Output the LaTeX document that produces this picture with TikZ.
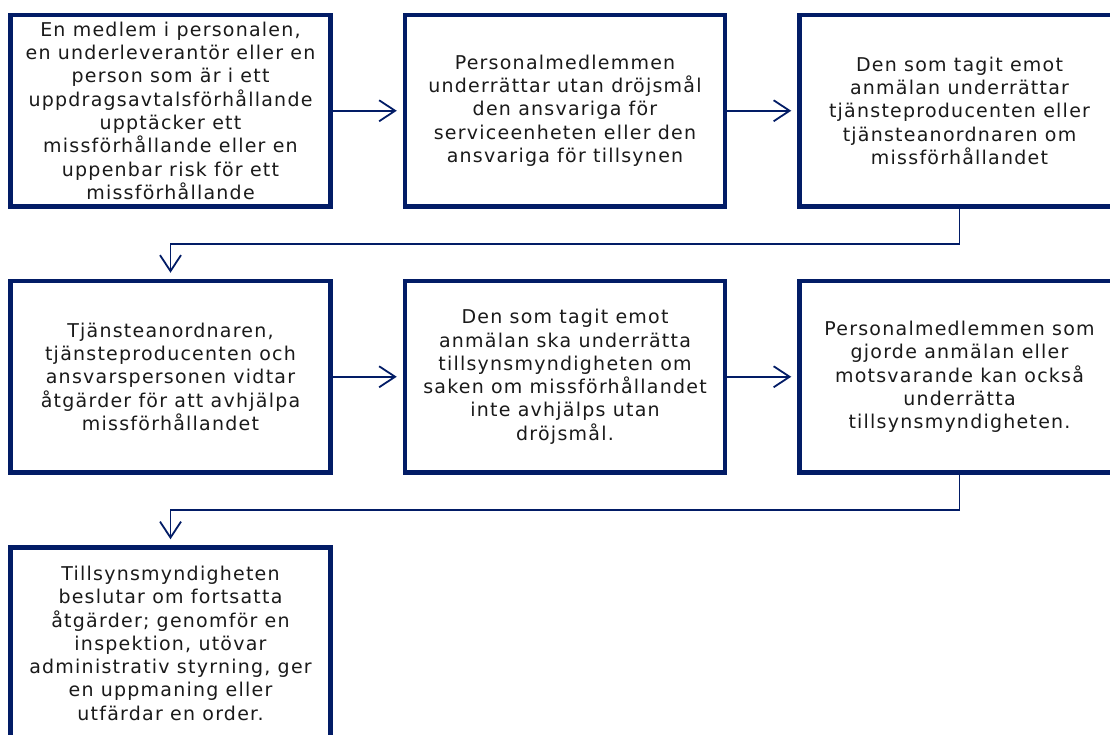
\documentclass[tikz,border=0pt]{standalone}
\usepackage{fontspec}
\setmainfont{DejaVu Sans}[LetterSpace=6.5]
\usetikzlibrary{arrows.meta}
\definecolor{navy}{RGB}{2,28,102}
\definecolor{txt}{RGB}{26,26,26}
\tikzset{
  stepbox/.style={draw=navy, line width=4.5pt, fill=white, rectangle,
    minimum width=320pt, minimum height=191.5pt, inner sep=0pt,
    align=center, text=txt, font=\fontsize{19}{23.3}\selectfont},
  conn/.style={draw=navy, line width=1.8pt,
    -{Straight Barb[length=16pt,width=21pt]}, shorten >=6pt}
}
\begin{document}
\begin{tikzpicture}[x=1pt,y=-1pt]
\useasboundingbox (0,0) rectangle (1110,734);
\clip (0,0) rectangle (1110,734);
\node[stepbox] (b1) at (170.5,110.75) {En medlem i personalen,\\ en underleverantör eller en\\ person som är i ett\\ uppdragsavtalsförhållande\\ upptäcker ett\\ missförhållande eller en\\ uppenbar risk för ett\\ missförhållande};
\node[stepbox] (b2) at (565,110.75) {Personalmedlemmen\\ underrättar utan dröjsmål\\ den ansvariga för\\ serviceenheten eller den\\ ansvariga för tillsynen};
\node[stepbox] (b3) at (959.5,110.75) {Den som tagit emot\\ anmälan underrättar\\ tjänsteproducenten eller\\ tjänsteanordnaren om\\ missförhållandet};
\node[stepbox] (b4) at (170.5,376.75) {Tjänsteanordnaren,\\ tjänsteproducenten och\\ ansvarspersonen vidtar\\ åtgärder för att avhjälpa\\ missförhållandet};
\node[stepbox] (b5) at (565,376.75) {Den som tagit emot\\ anmälan ska underrätta\\ tillsynsmyndigheten om\\ saken om missförhållandet\\ inte avhjälps utan\\ dröjsmål.};
\node[stepbox] (b6) at (959.5,376.75) {Personalmedlemmen som\\ gjorde anmälan eller\\ motsvarande kan också\\ underrätta\\ tillsynsmyndigheten.};
\node[stepbox] (b7) at (170.5,643.25) {Tillsynsmyndigheten\\ beslutar om fortsatta\\ åtgärder; genomför en\\ inspektion, utövar\\ administrativ styrning, ger\\ en uppmaning eller\\ utfärdar en order.};
\draw[conn] (b1.east) -- (b2.west);
\draw[conn] (b2.east) -- (b3.west);
\draw[conn] (b4.east) -- (b5.west);
\draw[conn] (b5.east) -- (b6.west);
\draw[conn] (b3.south) -- ++(0,35) -| (b4.north);
\draw[conn] (b6.south) -- ++(0,35) -| (b7.north);
\end{tikzpicture}
\end{document}
